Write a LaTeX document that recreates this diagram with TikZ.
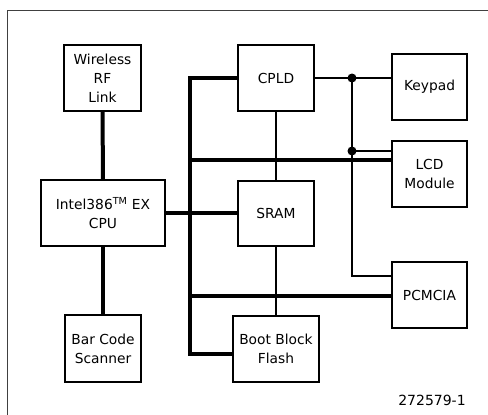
\documentclass[tikz,border=0pt]{standalone}
\usepackage{fontspec}
\setmainfont{DejaVu Sans}
\begin{document}
\begin{tikzpicture}[x=1pt,y=-1pt,
  box/.style={draw, line width=2.6pt, inner sep=0pt, outer sep=0pt, align=center,
    font=\fontsize{13.8}{19}\selectfont},
  bus/.style={line width=4pt},
  sig/.style={line width=1.8pt},
  frameline/.style={draw=black!75, line width=1.6pt},
  dot/.style={circle, fill=black, inner sep=0pt, minimum size=9pt}]
\useasboundingbox (0,0) rectangle (488,415);
\draw[frameline] (7.5,415) -- (7.5,10.5) -- (488,10.5);
% blocks
\node[box, minimum width=77pt, minimum height=66pt] (wrf) at (102.5,78) {Wireless\\RF\\Link};
\node[box, minimum width=124pt, minimum height=66pt] (cpu) at (103,213) {Intel386\textsuperscript{TM} EX\\CPU};
\node[box, minimum width=76pt, minimum height=67pt] (bcs) at (103,348.5) {Bar Code\\Scanner};
\node[box, minimum width=76pt, minimum height=66pt] (cpld) at (276,78) {CPLD};
\node[box, minimum width=76pt, minimum height=65pt] (sram) at (276,213.5) {SRAM};
\node[box, minimum width=86pt, minimum height=66pt] (bbf) at (276,349) {Boot Block\\Flash};
\node[box, minimum width=75pt, minimum height=66pt] (key) at (429.5,87) {Keypad};
\node[box, minimum width=75pt, minimum height=66pt] (lcd) at (429.5,174) {LCD\\Module};
\node[box, minimum width=75pt, minimum height=66pt] (pcm) at (429.5,295) {PCMCIA};
\node[font=\fontsize{14}{17}\selectfont, inner sep=0pt] (id) at (432,400) {272579-1};
% bus coordinates
\coordinate (b1) at (190,78);
\coordinate (b2) at (190,354);
\coordinate (j1) at (190,160);
\coordinate (j2) at (190,296);
\coordinate (c3) at (352,276);
\node[dot] (d1) at (352,78) {};
\node[dot] (d2) at (352,151) {};
% thick buses
\draw[bus] (wrf.south) -- (cpu.north);
\draw[bus] (cpu.south) -- (bcs.north);
\draw[bus] (cpld.west) -- (b1) -- (b2) -- (b2 -| bbf.west);
\draw[bus] (j1) -- (j1 -| lcd.west);
\draw[bus] (j2) -- (j2 -| pcm.west);
\draw[bus] (cpu.east) -- (cpu.east -| sram.west);
% thin signals
\draw[sig] (cpld.south) -- (sram.north);
\draw[sig] (sram.south) -- (bbf.north);
\draw[sig] (cpld.east) -- (cpld.east -| key.west);
\draw[sig] (d1.center) -- (c3) -- (c3 -| pcm.west);
\draw[sig] (d2.center) -- (d2 -| lcd.west);
\end{tikzpicture}
\end{document}
